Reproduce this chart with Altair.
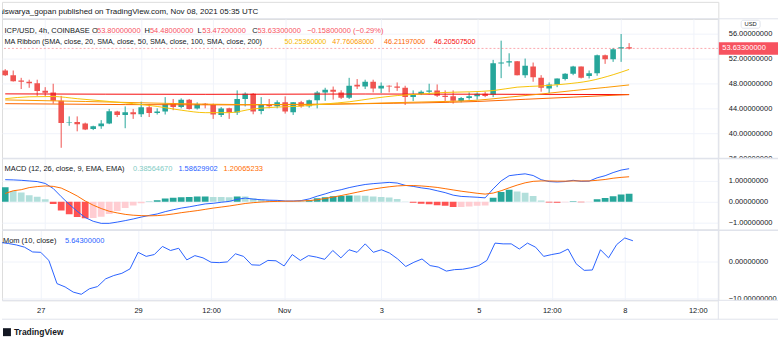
import altair as alt
import pandas as pd

# candle index k: 0 = 27 Oct 00:00 UTC, one step = one 4h candle
candle_k = list(range(-5, 74))
opens = [50.10, 49.33, 48.48, 48.27, 48.05, 46.83, 46.56, 45.23, 41.70, 41.80,
         41.55, 40.69, 41.12, 41.55, 43.47, 42.93, 43.36, 43.04, 44.16, 43.25,
         43.47, 44.75, 44.20, 45.39, 43.95, 44.75, 44.54, 42.93, 44.00, 43.31,
         45.50, 46.35, 43.57, 44.64, 44.32, 44.96, 43.36, 44.96, 44.32, 45.28,
         46.56, 46.99, 46.56, 45.71, 47.79, 47.52, 48.27, 47.20, 47.63, 47.52,
         47.30, 45.80, 46.29, 46.67, 46.88, 46.03, 45.92, 45.17, 45.65, 45.92,
         46.35, 46.19, 51.20, 51.37, 51.57, 49.33, 50.72, 48.90, 47.20, 47.84,
         48.70, 49.55, 50.72, 49.20, 49.65, 52.53, 51.89, 53.60, 53.80]
highs = [50.30, 50.08, 48.90, 48.60, 48.60, 47.40, 47.95, 46.00, 42.70, 42.70,
         41.70, 41.20, 42.10, 43.90, 43.60, 44.30, 43.90, 45.07, 44.60, 44.00,
         45.80, 45.50, 45.60, 45.50, 44.96, 44.85, 44.75, 44.20, 44.10, 46.88,
         46.56, 46.45, 45.80, 45.50, 45.28, 45.92, 45.00, 45.20, 45.40, 46.80,
         47.30, 47.50, 46.90, 48.90, 48.70, 48.60, 48.60, 48.16, 47.70, 48.16,
         47.63, 46.88, 46.88, 47.95, 47.84, 46.88, 46.88, 45.82, 46.56, 46.56,
         46.67, 51.79, 54.88, 52.85, 51.60, 52.00, 51.36, 49.33, 48.16, 48.80,
         49.65, 50.83, 50.72, 50.08, 52.64, 52.64, 53.71, 55.95, 54.48]
lows = [49.20, 48.30, 47.10, 47.30, 46.00, 45.90, 44.75, 37.65, 41.20, 40.30,
        40.50, 40.50, 40.70, 41.45, 42.60, 40.80, 42.30, 42.60, 42.60, 43.00,
        43.00, 43.70, 44.00, 43.80, 43.80, 44.00, 42.30, 42.60, 42.30, 42.93,
        44.30, 43.04, 43.04, 44.00, 44.00, 43.15, 42.93, 44.10, 44.10, 43.99,
        45.20, 45.40, 45.50, 45.50, 47.10, 47.10, 46.56, 46.45, 46.56, 46.80,
        44.54, 45.17, 46.13, 46.24, 45.82, 45.17, 44.75, 44.96, 45.39, 45.39,
        45.80, 45.80, 48.85, 50.72, 49.30, 48.90, 48.27, 46.67, 46.45, 47.40,
        48.48, 49.33, 48.80, 48.80, 49.23, 51.15, 51.47, 51.47, 53.472]
closes = [49.33, 48.37, 48.27, 48.05, 46.80, 46.50, 45.23, 41.65, 41.80, 41.45,
          40.60, 41.12, 41.55, 43.52, 42.93, 43.36, 43.04, 44.16, 43.25, 43.47,
          44.70, 44.20, 45.39, 43.90, 44.70, 44.54, 42.99, 43.95, 43.31, 45.50,
          46.35, 43.47, 44.64, 44.32, 44.96, 43.47, 44.96, 44.32, 45.28, 46.56,
          46.99, 46.67, 45.71, 47.63, 47.52, 48.27, 47.20, 47.63, 47.52, 47.30,
          45.80, 46.29, 46.67, 46.88, 46.03, 45.82, 45.23, 45.65, 45.92, 46.35,
          46.00, 51.25, 51.37, 51.57, 49.33, 50.83, 49.01, 47.31, 47.84, 48.80,
          49.55, 50.72, 48.90, 49.65, 52.53, 51.89, 53.50, 53.80, 53.633]

macd_line = [1.06, 1.05, 1.03, 1.00, 0.97, 0.88, 0.64, 0.25, -0.12, -0.45,
             -0.75, -0.93, -1.03, -1.03, -0.97, -0.90, -0.82, -0.73, -0.65, -0.58,
             -0.47, -0.38, -0.30, -0.24, -0.17, -0.10, -0.07, -0.02, 0.02, 0.12,
             0.18, 0.13, 0.10, 0.08, 0.07, 0.04, 0.04, 0.06, 0.14, 0.27,
             0.38, 0.50, 0.58, 0.68, 0.76, 0.83, 0.87, 0.90, 0.93, 0.90,
             0.79, 0.74, 0.67, 0.62, 0.53, 0.44, 0.32, 0.26, 0.24, 0.22,
             0.19, 0.62, 1.00, 1.25, 1.30, 1.34, 1.26, 1.06, 0.97, 0.95,
             0.97, 1.03, 0.98, 0.99, 1.15, 1.25, 1.40, 1.52, 1.586]
signal_line = [0.40, 0.53, 0.58, 0.68, 0.73, 0.76, 0.74, 0.66, 0.48, 0.28,
               0.04, -0.16, -0.32, -0.45, -0.53, -0.60, -0.64, -0.66, -0.67, -0.66,
               -0.63, -0.58, -0.52, -0.47, -0.42, -0.36, -0.30, -0.25, -0.20, -0.14,
               -0.08, -0.04, -0.01, 0.01, 0.02, 0.03, 0.03, 0.04, 0.06, 0.10,
               0.16, 0.23, 0.30, 0.38, 0.46, 0.54, 0.61, 0.67, 0.72, 0.76,
               0.78, 0.78, 0.76, 0.73, 0.69, 0.63, 0.57, 0.51, 0.46, 0.41,
               0.37, 0.42, 0.53, 0.67, 0.80, 0.91, 0.98, 1.00, 1.00, 0.99,
               0.99, 1.00, 1.00, 1.00, 1.03, 1.07, 1.13, 1.17, 1.20]
macd_hist = [0.70, 0.52, 0.45, 0.32, 0.24, 0.12, -0.10, -0.41, -0.60, -0.73,
             -0.79, -0.77, -0.71, -0.58, -0.44, -0.30, -0.18, -0.07, 0.02, 0.08,
             0.16, 0.20, 0.22, 0.23, 0.25, 0.26, 0.23, 0.23, 0.22, 0.26,
             0.26, 0.17, 0.11, 0.07, 0.05, 0.01, 0.01, 0.02, 0.08, 0.17,
             0.22, 0.27, 0.28, 0.30, 0.30, 0.29, 0.26, 0.23, 0.21, 0.14,
             0.01, -0.04, -0.09, -0.11, -0.16, -0.19, -0.25, -0.25, -0.22, -0.19,
             -0.18, 0.20, 0.47, 0.58, 0.50, 0.43, 0.28, 0.06, -0.03, -0.04,
             -0.02, 0.03, -0.02, -0.01, 0.12, 0.18, 0.27, 0.35, 0.386]
momentum = [5.2, 4.9, 4.5, 3.9, 2.6, 2.5, 0.3, -6.0, -6.9, -8.3,
            -8.9, -7.4, -6.8, -4.7, -3.8, -3.2, -2.0, 2.5, 1.4, 1.9,
            4.1, 3.0, 3.6, 0.45, 1.6, 1.0, -0.2, -0.3, -0.1, 2.1,
            1.4, -0.9, -1.0, 0.3, 0.2, -1.2, 1.9, 0.3, 1.6, 1.2,
            0.6, 3.0, 1.0, 3.2, 2.5, 4.8, 2.5, 3.2, 2.3, 0.7,
            -1.35, -0.2, 0.7, -1.1, -1.5, -2.6, -2.2, -2.1, -1.7, -1.1,
            0.3, 5.0, 4.8, 4.8, 3.4, 5.0, 3.9, 1.4, 1.9, 2.3,
            3.4, -0.6, -2.4, -2.3, 3.2, 1.0, 4.6, 6.4, 5.643]

sma20_k = [-5, -2, 1, 4, 8, 11, 14, 17, 20, 23, 26, 29, 32, 35, 38, 41, 44, 47, 50, 53, 56, 59, 62, 65, 68, 71, 73]
sma20_v = [45.55, 45.85, 45.9, 45.55, 45.1, 44.75, 44.3, 43.7, 43.3, 43.3, 43.9, 44.2, 44.35, 44.7,
           45.05, 45.6, 46.05, 46.3, 46.55, 46.65, 46.85, 47.4, 47.6, 47.9, 48.4, 49.4, 50.2536]
sma50_k = [-5, 5, 15, 25, 35, 45, 50, 54, 58, 62, 66, 70, 73]
sma50_v = [45.35, 45.1, 44.8, 44.6, 44.65, 44.95, 45.1, 45.3, 45.8, 46.3, 46.85, 47.35, 47.76068]
sma100_k = [-5, 10, 25, 40, 54, 60, 66, 73]
sma100_v = [44.75, 44.6, 44.55, 44.75, 45.1, 45.45, 45.8, 46.21197]
sma200_k = [-5, 20, 40, 60, 73]
sma200_v = [46.32, 46.25, 46.3, 46.25, 46.205075]

tick_k = [0, 12, 21, 30, 42, 54, 63, 72, 81]
tick_labels = ["27", "29", "12:00", "Nov", "3", "5", "12:00", "8", "12:00"]
price_ticks = [36, 40, 44, 48, 52, 56]
macd_ticks = [-1, 0, 1]
mom_ticks = [-10, 0]

FONT = "Liberation Sans"
FS = 7.5
TXT = "#131722"
GRID = "#F0F3FA"
SEP = "#E0E3EB"
UP = "#26A69A"
DOWN = "#EF5350"
RED = "#F7525F"

df = pd.DataFrame(dict(k=candle_k, open=opens, high=highs, low=lows, close=closes,
                       macd=macd_line, signal=signal_line, hist=macd_hist, mom=momentum))
df["dir"] = ["up" if c >= o else "down" for o, c in zip(opens, closes)]
cats = []
prev = None
for h in macd_hist:
    if h >= 0:
        cats.append("g1" if prev is None or h > prev else "g2")
    else:
        cats.append("r1" if prev is None or h < prev else "r2")
    prev = h
df["hcat"] = cats
df["zero"] = 0.0

xscale = alt.Scale(domain=[-4.78, 83.53], nice=False, zero=False)
pscale = alt.Scale(domain=[36.0, 58.4], nice=False, zero=False)
mscale = alt.Scale(domain=[-1.333, 2.095], nice=False, zero=False)
oscale = alt.Scale(domain=[-10.54, 8.65], nice=False, zero=False)

label_expr = ("[" + ",".join("'%s'" % s for s in tick_labels) + "][indexof(["
              + ",".join(str(v) for v in tick_k) + "], datum.value)]")


def yaxis(values):
    return alt.Axis(orient="right", values=values, format=".8f", grid=True, gridColor=GRID,
                    ticks=False, tickSize=0, domain=False, labelPadding=10, labelFont=FONT,
                    labelFontSize=FS, labelColor=TXT, labelFlush=False, labelOverlap=False,
                    title=None)


xgrid = alt.Axis(values=tick_k, grid=True, gridColor=GRID, labels=False, ticks=False,
                 tickSize=0, domain=False, title=None)
xlab = alt.Axis(values=tick_k, grid=True, gridColor=GRID, labelExpr=label_expr, ticks=False,
                tickSize=0, domain=False, labelPadding=6, labelFont=FONT, labelFontSize=FS,
                labelColor=TXT, labelFlush=False, labelOverlap=False, title=None)
pax = yaxis(price_ticks)
max_ = yaxis(macd_ticks)
oax = yaxis(mom_ticks)

one = pd.DataFrame({"d": [0]})


def txt(s, x, y, color=TXT, size=FS, weight="normal", align="left", clip=False):
    return alt.Chart(one).mark_text(text=s, align=align, baseline="middle", font=FONT,
                                    fontSize=size, fontWeight=weight, color=color,
                                    clip=clip).encode(x=alt.value(x), y=alt.value(y))


def hline(y, x0=0, x1=780, color=SEP, width=1):
    return alt.Chart(one).mark_rule(color=color, strokeWidth=width).encode(
        x=alt.value(x0), x2=alt.value(x1), y=alt.value(y))


def vline(x, y0, y1, color=SEP, width=1):
    return alt.Chart(one).mark_rule(color=color, strokeWidth=width).encode(
        x=alt.value(x), y=alt.value(y0), y2=alt.value(y1))


def box(x0, x1, y0, y1, fill, stroke=None, radius=0):
    kw = dict(fill=fill)
    if stroke:
        kw.update(stroke=stroke, strokeWidth=1)
    if radius:
        kw.update(cornerRadius=radius)
    return alt.Chart(one).mark_rect(**kw).encode(
        x=alt.value(x0), x2=alt.value(x1), y=alt.value(y0), y2=alt.value(y1))


def ma_layer(ks, vals, color):
    d = pd.DataFrame({"k": ks, "v": vals})
    return alt.Chart(d).mark_line(color=color, strokeWidth=1, interpolate="monotone",
                                  clip=True).encode(
        x=alt.X("k:Q", scale=xscale, axis=xgrid),
        y=alt.Y("v:Q", scale=pscale, axis=pax))


candle_color = alt.Color("dir:N", scale=alt.Scale(domain=["up", "down"], range=[UP, DOWN]),
                         legend=None)

# ---------------- header ----------------
header = alt.layer(
    txt("aiswarya_gopan published on TradingView.com, Nov 08, 2021 05:35 UTC", -3.5, 10,
        size=8, clip=True)
).properties(width=720, height=17)

# ---------------- price pane ----------------
wicks = alt.Chart(df).mark_rule(strokeWidth=1, clip=True).encode(
    x=alt.X("k:Q", scale=xscale, axis=xgrid),
    y=alt.Y("low:Q", scale=pscale, axis=pax),
    y2="high:Q", color=candle_color)
bodies = alt.Chart(df).mark_bar(size=5.6, clip=True).encode(
    x=alt.X("k:Q", scale=xscale, axis=xgrid),
    y=alt.Y("open:Q", scale=pscale, axis=pax),
    y2="close:Q", color=candle_color)

last = pd.DataFrame({"p": [closes[-1]]})
lastline = alt.Chart(last).mark_rule(color=RED, strokeDash=[2, 2], opacity=0.5,
                                     strokeWidth=1, clip=True).encode(
    y=alt.Y("p:Q", scale=pscale, axis=pax))
pricebox = alt.Chart(last).mark_tick(orient="horizontal", thickness=12.6, size=60,
                                     color=RED, opacity=1).encode(
    x=alt.value(750), y=alt.Y("p:Q", scale=pscale, axis=pax))
pricetxt = alt.Chart(last).mark_text(align="left", baseline="middle", font=FONT, fontSize=FS,
                                     color="white").encode(
    x=alt.value(724), y=alt.Y("p:Q", scale=pscale, axis=pax),
    text=alt.Text("p:Q", format=".8f"))

price = alt.layer(
    wicks, bodies,
    ma_layer(sma200_k, sma200_v, "#F60C0C"),
    ma_layer(sma100_k, sma100_v, "#FB6500"),
    ma_layer(sma50_k, sma50_v, "#FB9800"),
    ma_layer(sma20_k, sma20_v, "#F6C309"),
    lastline,
    txt("ICP/USD, 4h, COINBASE", 2.5, 12),
    txt("O", 90.5, 12), txt("53.80000000", 95.5, 12, RED),
    txt("H", 143.3, 12), txt("54.48000000", 148.7, 12, RED),
    txt("L", 196.5, 12), txt("53.47200000", 201.3, 12, RED),
    txt("C", 251.5, 12), txt("53.63300000", 256.7, 12, RED),
    txt("\u22120.15800000 (\u22120.29%)", 306.7, 12, RED),
    txt("MA Ribbon (SMA, close, 20, SMA, close, 50, SMA, close, 100, SMA, close, 200)", 2.5, 23,
        size=7.3),
    txt("50.25360000", 284, 23, "#F5B800", size=7.2),
    txt("47.76068000", 332, 23, "#FB9800", size=7.2),
    txt("46.21197000", 384, 23, "#FB6500", size=7.2),
    txt("46.20507500", 434, 23, "#F60C0C", size=7.2),
    pricebox, pricetxt,
    box(743, 762, 1.5, 9.5, "white", stroke=SEP, radius=2),
    txt("USD", 752.5, 5.6, size=5.8, align="center"),
    hline(0), vline(720, 0, 140),
).properties(width=720, height=140)

# ---------------- MACD pane ----------------
hist = alt.Chart(df).mark_bar(size=6.8, clip=True).encode(
    x=alt.X("k:Q", scale=xscale, axis=xgrid),
    y=alt.Y("hist:Q", scale=mscale, axis=max_),
    y2="zero:Q",
    color=alt.Color("hcat:N", scale=alt.Scale(domain=["g1", "g2", "r1", "r2"],
                                              range=["#26A69A", "#B2DFDB", "#FF5252", "#FFCDD2"]),
                    legend=None))
macdl = alt.Chart(df).mark_line(color="#2962FF", strokeWidth=1, clip=True).encode(
    x=alt.X("k:Q", scale=xscale, axis=xgrid), y=alt.Y("macd:Q", scale=mscale, axis=max_))
sigl = alt.Chart(df).mark_line(color="#FF6D00", strokeWidth=1, clip=True).encode(
    x=alt.X("k:Q", scale=xscale, axis=xgrid), y=alt.Y("signal:Q", scale=mscale, axis=max_))

macd = alt.layer(
    hist, macdl, sigl,
    txt("MACD (12, 26, close, 9, EMA, EMA)", 2.5, 11.3),
    txt("0.38564670", 131.7, 11.3, "#80CBC4"),
    txt("1.58629902", 177.3, 11.3, "#2962FF"),
    txt("1.20065233", 222.7, 11.3, "#FF6D00"),
    box(721, 780, 0, 5, "white"),
    hline(0.5, width=1.5), vline(720, 0, 72),
).properties(width=720, height=72)

# ---------------- Momentum pane ----------------
moml = alt.Chart(df).mark_line(color="#2962FF", strokeWidth=1, clip=True).encode(
    x=alt.X("k:Q", scale=xscale, axis=xlab),
    y=alt.Y("mom:Q", scale=oscale, axis=oax))

mom = alt.layer(
    moml,
    txt("Mom (10, close)", 1, 11.7),
    txt("5.64300000", 63.3, 11.7, "#2962FF"),
    box(721, 780, 71, 77, "white"),
    hline(0.5, width=1.5), hline(71), hline(90), vline(720, 0, 90),
    txt("TradingView", 12, 103, size=8.5, weight="bold"),
    box(1, 9, 99, 107, TXT),
).properties(width=720, height=71)

chart = alt.vconcat(header, price, macd, mom, spacing=0, bounds="flush").resolve_scale(
    color="independent"
).properties(
    padding=0, background="white"
).configure_view(strokeWidth=0).configure(font=FONT)

chart.save("out.html", embed_options={"renderer": "svg", "actions": False})
